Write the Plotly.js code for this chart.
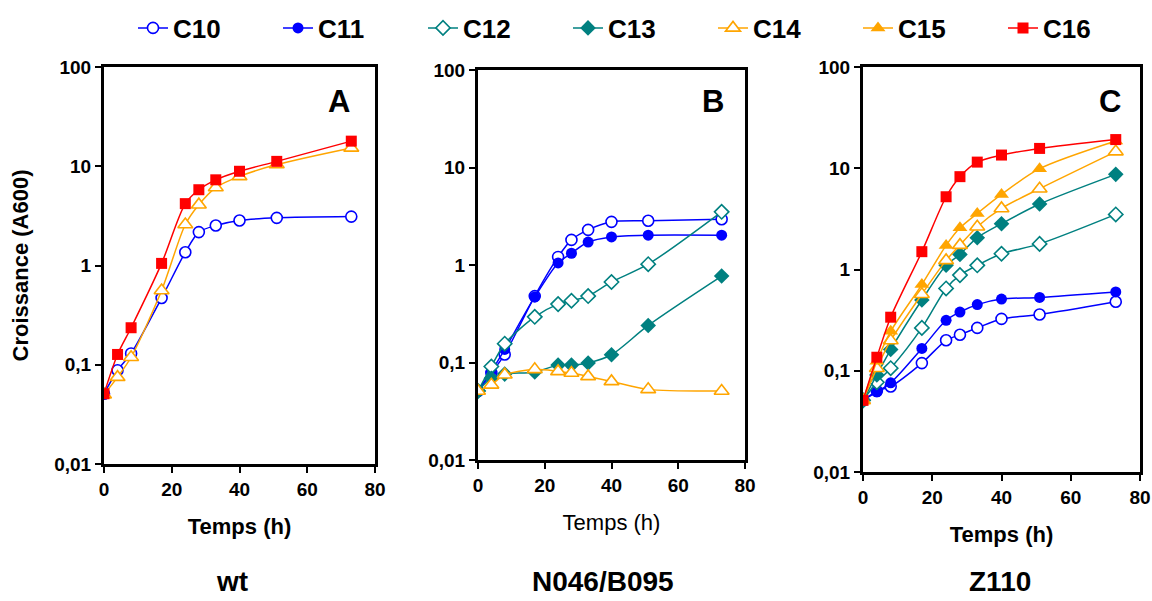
<!DOCTYPE html>
<html>
<head>
<meta charset="utf-8">
<script src="https://cdn.plot.ly/plotly-3.0.1.min.js"></script>
<style>html,body{margin:0;padding:0;background:#fff}#chart{width:1152px;height:601px}</style>
</head>
<body>
<div id="chart"></div>
<script>
// Time points (h)
const times = [0, 4, 8, 17, 24, 28, 33, 40, 51, 73];

// Panel A (wt)
const A_C10 = [0.051, 0.088, 0.130, 0.47, 1.36, 2.17, 2.53, 2.84, 3.02, 3.11];
const A_C14 = [0.050, 0.075, 0.119, 0.56, 2.59, 4.1, 6.1, 7.9, 10.4, 15.3];
const A_C16 = [0.051, 0.127, 0.236, 1.05, 4.2, 5.8, 7.3, 8.9, 11.2, 17.9];

// Panel B (N046/B095)
const B_C10 = [0.051, 0.078, 0.121, 0.48, 1.21, 1.81, 2.29, 2.77, 2.84, 2.95];
const B_C11 = [0.051, 0.081, 0.136, 0.47, 1.05, 1.32, 1.72, 1.94, 2.02, 2.02];
const B_C12 = [0.051, 0.091, 0.156, 0.294, 0.397, 0.43, 0.48, 0.67, 1.02, 3.51];
const B_C13 = [0.051, 0.069, 0.076, 0.080, 0.094, 0.094, 0.099, 0.12, 0.24, 0.77];
const B_C14 = [0.051, 0.059, 0.075, 0.085, 0.081, 0.078, 0.072, 0.064, 0.053, 0.051];

// Panel C (Z110)
const C_C10 = [0.051, 0.063, 0.070, 0.119, 0.20, 0.227, 0.265, 0.325, 0.359, 0.48];
const C_C11 = [0.051, 0.062, 0.076, 0.166, 0.315, 0.38, 0.45, 0.51, 0.53, 0.60];
const C_C12 = [0.051, 0.077, 0.106, 0.265, 0.65, 0.88, 1.10, 1.43, 1.79, 3.50];
const C_C13 = [0.051, 0.091, 0.162, 0.50, 1.10, 1.41, 2.06, 2.83, 4.43, 8.7];
const C_C14 = [0.051, 0.106, 0.199, 0.57, 1.23, 1.74, 2.64, 4.01, 6.28, 14.6];
const C_C15 = [0.051, 0.124, 0.245, 0.71, 1.73, 2.58, 3.58, 5.52, 9.9, 18.6];
const C_C16 = [0.051, 0.136, 0.338, 1.50, 5.23, 8.26, 11.5, 13.5, 15.7, 19.2];

// Tick labels
const yTickVals = [0.01, 0.1, 1, 10, 100];
const yTickText = ['0,01', '0,1', '1', '10', '100'];
const xTickVals = [0, 20, 40, 60, 80];
const panelLetters = ['A', 'B', 'C'];
const strainNames = ['wt', 'N046/B095', 'Z110'];

const BLUE = '#0000ff', TEAL = '#008080', ORANGE = '#ffa500', RED = '#ff0000';
const styles = {
  C10: {color: BLUE, symbol: 'circle-open', fill: 'white', size: 11},
  C11: {color: BLUE, symbol: 'circle', fill: BLUE, size: 11},
  C12: {color: TEAL, symbol: 'diamond-open', fill: 'white', size: 11},
  C13: {color: TEAL, symbol: 'diamond', fill: TEAL, size: 12},
  C14: {color: ORANGE, symbol: 'triangle-up-open', fill: 'white', size: 13},
  C15: {color: ORANGE, symbol: 'triangle-up', fill: ORANGE, size: 13},
  C16: {color: RED, symbol: 'square', fill: RED, size: 11}
};

function tr(name, y, xa, ya, legend) {
  const s = styles[name];
  const open = s.symbol.endsWith('-open');
  return {
    x: times, y: y, name: name, xaxis: xa, yaxis: ya,
    type: 'scatter', mode: 'lines+markers',
    showlegend: legend,
    line: {color: s.color, width: 1.5, shape: 'spline', smoothing: 0.8},
    marker: {
      symbol: open ? s.symbol.replace('-open', '') : s.symbol,
      size: s.size,
      color: s.fill,
      line: {color: s.color, width: open ? 1.6 : 0}
    }
  };
}

const data = [
  tr('C10', A_C10, 'x', 'y', false),
  tr('C14', A_C14, 'x', 'y', false),
  tr('C16', A_C16, 'x', 'y', false),
  tr('C10', B_C10, 'x2', 'y2', false),
  tr('C11', B_C11, 'x2', 'y2', false),
  tr('C12', B_C12, 'x2', 'y2', false),
  tr('C13', B_C13, 'x2', 'y2', false),
  tr('C14', B_C14, 'x2', 'y2', false),
  tr('C10', C_C10, 'x3', 'y3', true),
  tr('C11', C_C11, 'x3', 'y3', true),
  tr('C12', C_C12, 'x3', 'y3', true),
  tr('C13', C_C13, 'x3', 'y3', true),
  tr('C14', C_C14, 'x3', 'y3', true),
  tr('C15', C_C15, 'x3', 'y3', true),
  tr('C16', C_C16, 'x3', 'y3', true)
];

const FAM = 'Liberation Sans, Arial, sans-serif';
const tickFont = {family: FAM, size: 19, color: '#000', weight: 'bold'};
function xaxis(domain, anchor, titleBold, standoff) {
  return {
    domain: domain, anchor: anchor, range: [0, 80],
    tickvals: xTickVals, ticks: 'outside', ticklen: 6, tickwidth: 2, tickcolor: '#000',
    showline: true, linewidth: 3, linecolor: '#000', mirror: true,
    showgrid: false, zeroline: false, tickfont: tickFont,
    title: {text: 'Temps (h)', standoff: standoff,
      font: {family: FAM, size: 22, color: '#000', weight: titleBold ? 'bold' : 'normal'}}
  };
}
function yaxis(domain, anchor, title) {
  const ax = {
    domain: domain, anchor: anchor, type: 'log', range: [-2, 2],
    tickvals: yTickVals, ticktext: yTickText, ticks: 'outside', ticklen: 6, tickwidth: 2, tickcolor: '#000',
    showline: true, linewidth: 3, linecolor: '#000', mirror: true,
    showgrid: false, zeroline: false, tickfont: tickFont
  };
  if (title) ax.title = {text: title, standoff: 20, font: {family: FAM, size: 22, color: '#000', weight: 'bold'}};
  return ax;
}

const W = 1152, H = 601;
const annotations = [];
const letterPos = [[339, 102], [713, 102], [1110, 102]];
panelLetters.forEach((t, i) => annotations.push({
  text: '<b>' + t + '</b>', xref: 'paper', yref: 'paper', x: letterPos[i][0] / W, y: 1 - letterPos[i][1] / H,
  showarrow: false, xanchor: 'center', yanchor: 'middle',
  font: {family: FAM, size: 31, color: '#000'}
}));
const strainX = [232, 603, 1000];
strainNames.forEach((t, i) => annotations.push({
  text: '<b>' + t + '</b>', xref: 'paper', yref: 'paper', x: strainX[i] / W, y: 2 / H,
  showarrow: false, xanchor: 'center', yanchor: 'bottom',
  font: {family: FAM, size: 28, color: '#000'}
}));

const layout = {
  width: W, height: H,
  margin: {l: 0, r: 0, t: 0, b: 0},
  paper_bgcolor: '#fff', plot_bgcolor: '#fff',
  showlegend: true,
  legend: {
    orientation: 'h', x: 133 / W, y: 1 - 28 / H, xanchor: 'left', yanchor: 'middle',
    entrywidth: 100, entrywidthmode: 'pixels', itemwidth: 30,
    font: {family: FAM, size: 26, color: '#000', weight: 'bold'},
    bgcolor: 'rgba(0,0,0,0)', traceorder: 'normal'
  },
  xaxis: xaxis([104 / W, 375 / W], 'y', true, 20),
  yaxis: yaxis([1 - 464 / H, 1 - 67 / H], 'x', 'Croissance (A600)'),
  xaxis2: xaxis([478 / W, 745 / W], 'y2', false, 20),
  yaxis2: yaxis([1 - 460 / H, 1 - 70 / H], 'x2', null),
  xaxis3: xaxis([863 / W, 1140 / W], 'y3', true, 20),
  yaxis3: yaxis([1 - 472 / H, 1 - 67 / H], 'x3', null),
  annotations: annotations
};

Plotly.newPlot('chart', data, layout, {displayModeBar: false, staticPlot: true});
</script>
</body>
</html>
